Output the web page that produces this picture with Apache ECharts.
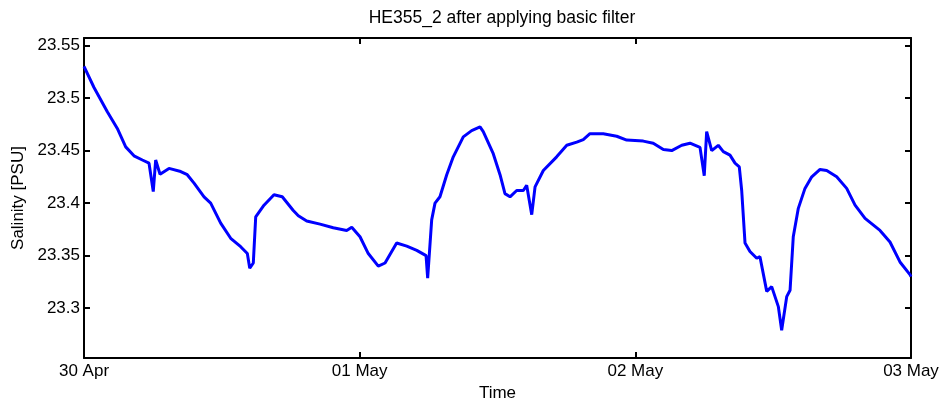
<!DOCTYPE html>
<html>
<head>
<meta charset="utf-8">
<script src="https://cdn.jsdelivr.net/npm/echarts@6/dist/echarts.min.js"></script>
<style>
  html, body { margin: 0; padding: 0; background: #fff; }
  #chart { width: 943px; height: 403px; }
</style>
</head>
<body>
<div id="chart"></div>
<script>
  // hours since 30 Apr 00:00
  const hours = [
    0, 0.87, 2.03, 2.90, 3.63, 4.35, 5.08, 5.66, 6.03, 6.24,
    6.62, 7.40, 8.42, 8.99, 9.58, 10.45, 11.03, 11.90, 12.77, 13.64,
    14.22, 14.43, 14.74, 14.95, 15.67, 16.54, 17.26, 18.22, 18.66, 19.39,
    20.55, 21.70, 22.87, 23.31, 24.03, 24.75, 25.62, 26.21, 27.22, 28.10,
    28.97, 29.78, 29.92, 30.27, 30.56, 30.99, 31.58, 32.15, 33.02, 33.75,
    34.48, 34.76, 35.63, 36.22, 36.65, 37.09, 37.67, 38.25, 38.54, 38.98,
    39.27, 39.99, 41.15, 42.03, 42.90, 43.47, 44.05, 45.21, 46.38, 47.25,
    48.69, 49.56, 50.44, 51.17, 52.04, 52.76, 53.63, 54.00, 54.21, 54.65,
    55.22, 55.66, 56.24, 56.68, 57.05, 57.26, 57.55, 57.98, 58.57, 58.85,
    59.44, 59.87, 60.45, 60.74, 61.18, 61.47, 61.75, 62.19, 62.77, 63.36,
    64.08, 64.66, 65.53, 66.40, 67.13, 68.00, 69.30, 70.17, 71.04, 71.91,
    72
  ];
  const salinity = [
    23.530, 23.510, 23.487, 23.471, 23.4535, 23.445, 23.441, 23.438, 23.411, 23.441,
    23.4275, 23.433, 23.430, 23.427, 23.419, 23.406, 23.400, 23.381, 23.3665, 23.3585,
    23.352, 23.338, 23.343, 23.387, 23.398, 23.408, 23.406, 23.393, 23.388, 23.383,
    23.380, 23.3765, 23.374, 23.377, 23.368, 23.352, 23.340, 23.343, 23.362, 23.359,
    23.355, 23.350, 23.3285, 23.384, 23.400, 23.406, 23.427, 23.444, 23.463, 23.469,
    23.4725, 23.468, 23.447, 23.427, 23.409, 23.406, 23.412, 23.412, 23.417, 23.389,
    23.4155, 23.431, 23.444, 23.455, 23.458, 23.4605, 23.466, 23.466, 23.4636, 23.460,
    23.459, 23.457, 23.451, 23.450, 23.455, 23.457, 23.453, 23.426, 23.468, 23.450,
    23.455, 23.449, 23.4456, 23.438, 23.4345, 23.412, 23.362, 23.354, 23.3475, 23.349,
    23.316, 23.3205, 23.3015, 23.279, 23.311, 23.317, 23.368, 23.395, 23.414, 23.425,
    23.432, 23.431, 23.425, 23.414, 23.398, 23.3855, 23.374, 23.363, 23.344, 23.332,
    23.330
  ];
  const dayLabels = ['30 Apr', '01 May', '02 May', '03 May'];
  const yTicks = [23.3, 23.35, 23.4, 23.45, 23.5, 23.55];

  const font = 'Liberation Sans, Arial, sans-serif';
  const chart = echarts.init(document.getElementById('chart'));

  const frameLine = { show: true, onZero: false, lineStyle: { color: '#000', width: 2 } };
  const inTick = { show: true, inside: true, length: 6, lineStyle: { color: '#000', width: 2 } };

  chart.setOption({
    animation: false,
    title: {
      text: 'HE355_2 after applying basic filter',
      left: 497, top: 4, textAlign: 'center',
      textStyle: { fontFamily: font, fontSize: 17.5, fontWeight: 'normal', color: '#000' }
    },
    grid: { left: 84, top: 38, width: 827, height: 320, outerBoundsMode: 'none' },
    xAxis: [
      {
        type: 'value', position: 'bottom', min: 0, max: 72, interval: 24,
        name: 'Time', nameLocation: 'middle', nameGap: 24,
        nameTextStyle: { fontFamily: font, fontSize: 17, color: '#000' },
        axisLine: frameLine, axisTick: inTick, splitLine: { show: false },
        axisLabel: {
          margin: 5, fontFamily: font, fontSize: 17, color: '#000',
          formatter: v => dayLabels[Math.round(v / 24)]
        }
      },
      {
        type: 'value', position: 'top', min: 0, max: 72, interval: 24,
        axisLine: frameLine, axisTick: inTick, splitLine: { show: false },
        axisLabel: { show: false }
      }
    ],
    yAxis: [
      {
        type: 'value', position: 'left', min: 23.2526, max: 23.5571,
        name: 'Salinity [PSU]', nameLocation: 'middle', nameGap: 56,
        nameTextStyle: { fontFamily: font, fontSize: 17, color: '#000' },
        axisLine: frameLine, splitLine: { show: false },
        axisTick: Object.assign({ customValues: yTicks }, inTick),
        axisLabel: {
          customValues: yTicks, margin: 4, fontFamily: font, fontSize: 17, color: '#000',
          formatter: v => String(+v.toFixed(2))
        }
      },
      {
        type: 'value', position: 'right', min: 23.2526, max: 23.5571,
        axisLine: frameLine, splitLine: { show: false },
        axisTick: Object.assign({ customValues: yTicks }, inTick),
        axisLabel: { show: false }
      }
    ],
    series: [
      {
        type: 'line',
        data: hours.map((h, i) => [h, salinity[i]]),
        showSymbol: false,
        lineStyle: { color: '#0000ff', width: 3 },
        itemStyle: { color: '#0000ff' }
      }
    ]
  });
</script>
</body>
</html>
